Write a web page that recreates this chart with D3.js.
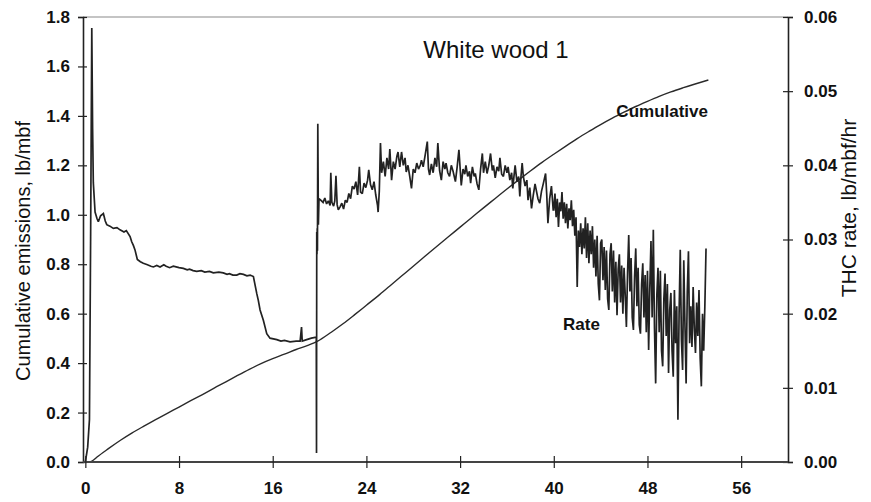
<!DOCTYPE html>
<html><head><meta charset="utf-8">
<script src="https://cdn.jsdelivr.net/npm/d3@7/dist/d3.min.js"></script>
<style>
html,body{margin:0;padding:0;background:#fff;}
svg{display:block;}
</style></head>
<body>
<svg id="chart" width="871" height="502"></svg>
<script>
// ---- data ----
const title = "White wood 1";
const xTicks = [0, 8, 16, 24, 32, 40, 48, 56];
const leftTicks = [0, 0.2, 0.4, 0.6, 0.8, 1.0, 1.2, 1.4, 1.6, 1.8];
const rightTicks = [0, 0.01, 0.02, 0.03, 0.04, 0.05, 0.06];
const leftTitle = "Cumulative emissions, lb/mbf";
const rightTitle = "THC rate, lb/mbf/hr";

// cumulative emissions (hours, lb/mbf)
const cumHours = [0.4,0.7,1,2,3,4,5,6,7,8,9,10,11,12,13,14,15,16,17,18,19,19.8,21,22,23,24,25,26,27,28,29,30,31,32,33,34,35,36,37,38,39,40,41,42,43,44,45,46,47,48,49,50,51,52,53.2];
const cumValues = [0,0.008,0.02,0.055,0.088,0.118,0.145,0.171,0.197,0.222,0.248,0.273,0.299,0.324,0.35,0.375,0.398,0.418,0.436,0.455,0.472,0.488,0.525,0.559,0.596,0.634,0.672,0.712,0.752,0.792,0.832,0.872,0.911,0.95,0.989,1.028,1.066,1.104,1.141,1.177,1.212,1.245,1.277,1.308,1.337,1.365,1.391,1.415,1.438,1.459,1.479,1.497,1.513,1.528,1.545];

// THC rate, first 40 hours (hours, lb/mbf/hr)
const rateHours = [0,0.2,0.35,0.45,0.55,0.62,0.68,0.83,1.0,1.11,1.3,1.54,1.7,1.83,2.1,2.39,2.7,2.96,3.3,3.5,3.82,3.96,4.1,4.24,4.44,4.7,4.95,5.3,5.6,5.81,6.1,6.38,6.7,6.9,7.2,7.51,8.0,8.37,8.7,8.9,9.2,9.51,9.9,10.2,10.6,10.93,11.4,11.78,12.1,12.3,12.6,12.93,13.2,13.5,13.8,14.07,14.35,14.64,14.77,14.92,15.2,15.49,15.77,16.35,16.7,17.0,17.48,18.0,18.34,18.46,18.52,18.9,19.3,19.62,19.72,19.74,19.76,19.78,19.8,19.82,19.85,19.9,19.95,
20.1,20.3,20.45,20.6,20.75,20.9,20.96,21.05,21.2,21.3,21.4,21.5,21.6,21.75,21.9,22.05,22.2,22.35,22.5,22.65,22.8,22.95,23.1,23.25,23.4,23.5,23.65,23.8,23.95,24.1,24.2,24.35,24.5,24.65,24.8,24.95,25.0,25.1,25.2,25.3,25.45,25.6,25.75,25.9,26.0,26.15,26.3,26.45,26.6,26.7,26.85,27.0,27.15,27.3,27.4,27.55,27.7,27.85,28.0,28.15,28.3,28.45,28.6,28.7,28.85,29.0,29.2,29.3,29.4,29.55,29.7,29.85,30.0,30.1,30.25,30.4,30.55,30.7,30.8,30.95,31.1,31.25,31.4,31.6,31.75,31.9,32.05,32.1,32.25,32.4,32.5,32.65,32.8,32.9,33.05,33.2,33.3,33.45,33.6,33.75,33.9,34.0,34.15,34.3,34.45,34.6,34.75,34.85,35.0,35.15,35.3,35.4,35.55,35.7,35.85,36.0,36.1,36.25,36.4,36.5,36.6,36.7,36.85,37.0,37.1,37.2,37.3,37.4,37.55,37.7,37.8,37.95,38.1,38.25,38.4,38.5,38.65,38.8,38.95,39.1,39.3,39.4,39.5,39.65,39.8,39.95];
const rateValues = [0,0.002,0.0057,0.03,0.0585,0.045,0.0377,0.0337,0.0328,0.0324,0.0332,0.0335,0.0325,0.032,0.0318,0.0315,0.0316,0.0313,0.031,0.0312,0.0304,0.0297,0.0292,0.0286,0.0273,0.027,0.0268,0.0266,0.0264,0.0263,0.0265,0.0263,0.0266,0.0264,0.0262,0.0264,0.0262,0.0261,0.0259,0.026,0.0258,0.0257,0.0258,0.0256,0.0257,0.0255,0.0256,0.0255,0.0253,0.0254,0.0252,0.0252,0.0254,0.0253,0.0251,0.0252,0.025,0.0227,0.0218,0.0205,0.0191,0.0173,0.0167,0.0165,0.0163,0.0164,0.0162,0.0163,0.0163,0.0182,0.0163,0.0165,0.0167,0.0168,0.0168,0.0012,0.031,0.028,0.0315,0.0285,0.0456,0.032,0.0355,
0.0353,0.035,0.0356,0.0348,0.0352,0.0346,0.039,0.035,0.0345,0.0352,0.0386,0.0347,0.034,0.0344,0.0349,0.0341,0.0353,0.035,0.0362,0.0355,0.0372,0.0368,0.0378,0.036,0.0398,0.0364,0.0362,0.0376,0.037,0.038,0.0394,0.0374,0.0367,0.0378,0.036,0.0346,0.0337,0.0365,0.043,0.039,0.0405,0.0385,0.041,0.0395,0.0422,0.038,0.0405,0.0395,0.0412,0.0418,0.0398,0.0418,0.04,0.041,0.0391,0.04,0.0385,0.0369,0.0395,0.039,0.0403,0.0395,0.04,0.0407,0.0398,0.0412,0.0432,0.0395,0.0387,0.0402,0.039,0.041,0.0398,0.043,0.0393,0.038,0.0405,0.0395,0.0403,0.039,0.0385,0.04,0.0392,0.0378,0.0398,0.0421,0.0385,0.0373,0.0395,0.0388,0.04,0.0385,0.0392,0.0376,0.0398,0.0385,0.0389,0.0375,0.0367,0.0395,0.0416,0.039,0.0405,0.0389,0.04,0.0416,0.0393,0.04,0.0383,0.0398,0.0392,0.041,0.0388,0.0385,0.04,0.039,0.0398,0.038,0.039,0.0369,0.0385,0.04,0.0378,0.0385,0.0358,0.0385,0.0403,0.0385,0.0372,0.038,0.0353,0.037,0.0342,0.036,0.0375,0.0367,0.0355,0.0349,0.0365,0.0375,0.0389,0.036,0.0322,0.0355,0.0372,0.034];

// THC rate, hours 40.0 to 53.0, one reading every 0.1 hour (lb/mbf/hr)
const lateStartHour = 40.0;
const lateStepHours = 0.1;
const rateLate = [0.034,0.0362,0.033,0.0355,0.0317,0.035,0.0338,0.0364,0.0328,0.035,
0.0322,0.0348,0.0315,0.0342,0.0326,0.0353,0.0318,0.034,0.0305,0.033,
0.0236,0.0312,0.029,0.0322,0.028,0.0315,0.0288,0.033,0.0275,0.0322,
0.0268,0.0312,0.028,0.0318,0.0262,0.03,0.025,0.0305,0.024,0.0218,
0.0295,0.03,0.0245,0.029,0.0232,0.0285,0.022,0.0205,0.028,0.0295,
0.023,0.0285,0.0215,0.027,0.0198,0.026,0.028,0.0215,0.0265,0.02,
0.0262,0.0225,0.0182,0.0255,0.0306,0.023,0.0275,0.0195,0.0178,0.025,
0.0288,0.021,0.0262,0.0185,0.0173,0.024,0.0268,0.0195,0.0252,0.0175,
0.0258,0.0151,0.0235,0.0298,0.0195,0.0313,0.018,0.0106,0.0225,0.0262,
0.0175,0.0258,0.015,0.0129,0.022,0.0254,0.017,0.024,0.012,0.0205,
0.0228,0.015,0.0115,0.0232,0.016,0.021,0.0057,0.02,0.0286,0.0165,
0.0124,0.0272,0.0185,0.0106,0.023,0.0284,0.016,0.021,0.0155,0.0236,
0.018,0.0147,0.0215,0.017,0.0232,0.014,0.0102,0.02,0.015,0.021,
0.0288];

// ---- drawing ----
const svg = d3.select("#chart");
const L = 83, R = 788, T = 17, B = 462;
const x = d3.scaleLinear().domain([-0.2, 60]).range([L, R]);
const yL = d3.scaleLinear().domain([0, 1.8]).range([B, T]);
const yR = d3.scaleLinear().domain([0, 0.06]).range([B, T]);

const FONT = "'Liberation Sans', Arial, sans-serif";

// frame top line
svg.append("line").attr("x1", L).attr("x2", R).attr("y1", T).attr("y2", T)
  .attr("stroke", "#8a8a8a").attr("stroke-width", 1.2);

// series
const cumData = cumHours.map((h, i) => [h, cumValues[i]]);
const rateData = rateHours.map((h, i) => [h, rateValues[i]])
  .concat(rateLate.map((v, i) => [+(lateStartHour + i * lateStepHours).toFixed(2), v]));

svg.append("path").datum(cumData)
  .attr("fill", "none").attr("stroke", "#2a2a2a").attr("stroke-width", 1.4)
  .attr("d", d3.line().x(d => x(d[0])).y(d => yL(d[1])).curve(d3.curveMonotoneX));

svg.append("path").datum(rateData)
  .attr("fill", "none").attr("stroke", "#222").attr("stroke-width", 1.7)
  .attr("stroke-linejoin", "miter").attr("stroke-miterlimit", 2)
  .attr("d", d3.line().x(d => x(d[0])).y(d => yR(d[1])));

// axes
function styleAxis(g) {
  g.select(".domain").attr("stroke", "#222").attr("stroke-width", 1.6);
  g.selectAll(".tick line").attr("stroke", "#222").attr("stroke-width", 1.2);
  g.selectAll(".tick text").attr("font-family", FONT).attr("font-weight", "bold")
    .attr("font-size", 17).attr("fill", "#111");
}

const gL = svg.append("g").attr("transform", `translate(${L},0)`)
  .call(d3.axisLeft(yL).tickValues(leftTicks).tickFormat(d3.format(".1f")).tickSizeOuter(0).tickSize(5).tickPadding(8));
styleAxis(gL);
gL.selectAll(".tick line").attr("x1", 4).attr("x2", -5);

const gR = svg.append("g").attr("transform", `translate(${R},0)`)
  .call(d3.axisRight(yR).tickValues(rightTicks).tickFormat(d3.format(".2f")).tickSizeOuter(0).tickSize(5).tickPadding(11));
styleAxis(gR);
gR.selectAll(".tick line").attr("x1", -5).attr("x2", 5);

const gB = svg.append("g").attr("transform", `translate(0,${B})`)
  .call(d3.axisBottom(x).tickValues(xTicks).tickFormat(d3.format("d")).tickSizeOuter(0).tickSize(6).tickPadding(14));
styleAxis(gB);
gB.select(".domain").attr("stroke", "#444").attr("stroke-width", 2).attr("d", `M${L},0H${R}`);
gB.selectAll(".tick line").attr("y1", -6).attr("y2", 6);

// titles
svg.append("text").attr("x", 496).attr("y", 58).attr("text-anchor", "middle")
  .attr("font-family", FONT).attr("font-size", 24).attr("fill", "#111").text(title);

svg.append("text").attr("transform", "translate(30,251) rotate(-90)").attr("text-anchor", "middle")
  .attr("font-family", FONT).attr("font-size", 20).attr("fill", "#111").text(leftTitle);

svg.append("text").attr("transform", "translate(856,208) rotate(-90)").attr("text-anchor", "middle")
  .attr("font-family", FONT).attr("font-size", 21).attr("fill", "#111").text(rightTitle);

// series labels
svg.append("text").attr("x", 708).attr("y", 117).attr("text-anchor", "end")
  .attr("font-family", FONT).attr("font-weight", "bold").attr("font-size", 17).attr("fill", "#111").text("Cumulative");
svg.append("text").attr("x", 563).attr("y", 330)
  .attr("font-family", FONT).attr("font-weight", "bold").attr("font-size", 17).attr("fill", "#111").text("Rate");
</script>
</body></html>
